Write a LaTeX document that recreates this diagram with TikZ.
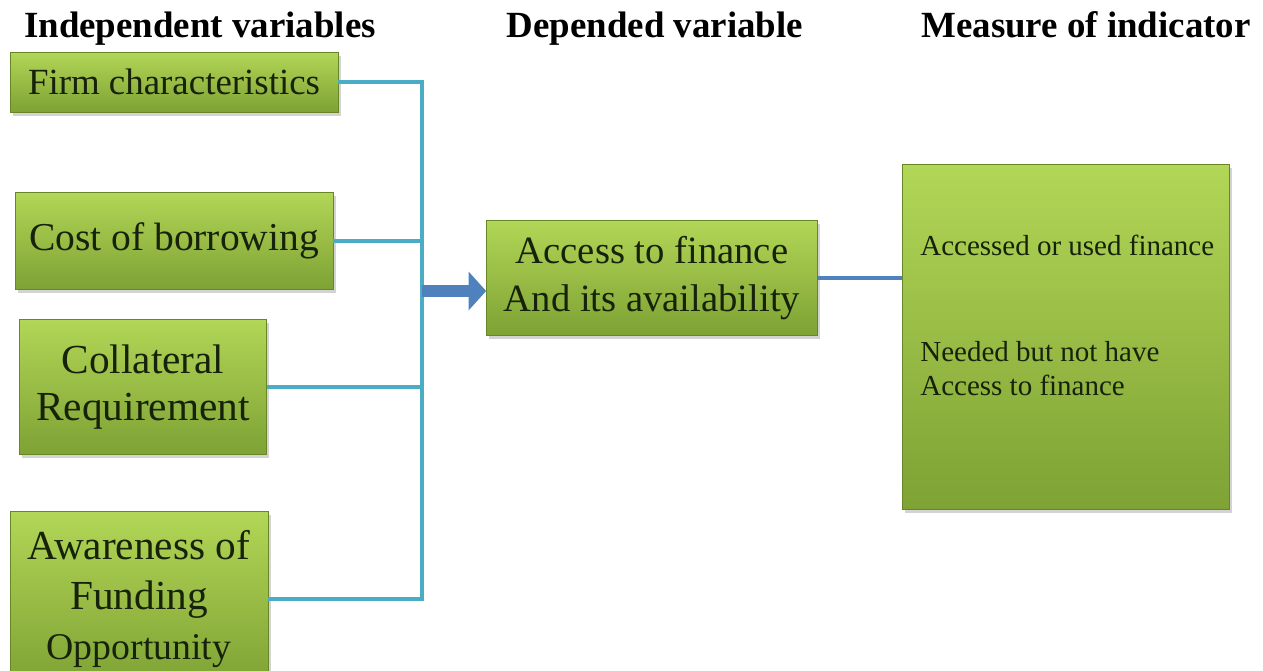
\documentclass[tikz,border=0pt]{standalone}
\usepackage{fontspec}
\setmainfont{Liberation Serif}
\usepackage{tikz}
\usetikzlibrary{arrows.meta,shadows}
\definecolor{cfGreenT} {RGB}{178,214, 86}
\definecolor{cfGreenB} {RGB}{126,162, 52}
\definecolor{cfGreenD} {RGB}{104,134, 40}
\definecolor{cfAqua}   {RGB}{ 75,172,198}
\definecolor{cfSteel}  {RGB}{ 79,129,189}
\definecolor{cfSteelD} {RGB}{ 56, 98,150}
\definecolor{cfText}   {RGB}{ 22, 34, 10}

\begin{document}
\begin{tikzpicture}[
  x=0.02cm,y=-0.02cm,
  head/.style={font=\bfseries\fontsize{21}{25}\selectfont,text=black,anchor=base},
  factor/.style={draw=cfGreenD,top color=cfGreenT,bottom color=cfGreenB,
                 thin,align=center,text=cfText,inner sep=0pt,
                 drop shadow={shadow xshift=1.5pt,shadow yshift=-2pt,opacity=0.35}},
  link/.style={draw=cfAqua,line width=2.6pt},
  flow/.style={draw=cfSteel,line width=7.2pt,
               -{Triangle[length=10pt,width=21.5pt]}},
  wire/.style={draw=cfSteel,line width=2.2pt}
]
\useasboundingbox (0,0) rectangle (1263,670);

% column titles
\node[head] (hind) at (200,37)  {Independent variables};
\node[head] (hdep) at (655,37)  {Depended variable};
\node[head] (hmea) at (1086,37) {Measure of indicator};

% independent variables
\node[factor,minimum width=6.56cm,minimum height=1.2cm,
      font=\fontsize{21}{25}\selectfont] (firm) at (174,82) {Firm characteristics};
\node[factor,minimum width=6.36cm,minimum height=1.94cm,
      font=\fontsize{22.5}{27}\selectfont] (cost) at (174,241) {Cost of borrowing};
\node[factor,minimum width=4.94cm,minimum height=2.7cm,
      font=\fontsize{23.5}{27.2}\selectfont] (coll) at (143,387) {Collateral\\Requirement};
\node[factor,minimum width=5.16cm,minimum height=3.5cm,
      font=\fontsize{23.5}{28.4}\selectfont] (aware) at (139,599)
      {Awareness of\\Funding\\{\fontsize{21.5}{28.4}\selectfont Opportunity}};

% dependent variable
\node[factor,minimum width=6.62cm,minimum height=2.3cm,
      font=\fontsize{22}{27.2}\selectfont] (access) at (652,278)
      {Access to finance\\And its availability};

% measure of indicator
\node[factor,minimum width=6.54cm,minimum height=6.9cm] (meas) at (1066,337) {};
\node[anchor=west,text=cfText,font=\fontsize{16.5}{19.3}\selectfont,inner sep=0pt]
     (used) at (920,245) {Accessed or used finance};
\node[anchor=west,align=left,text=cfText,font=\fontsize{16.5}{19.3}\selectfont,inner sep=0pt]
     (need) at (920,369) {Needed but not have\\Access to finance};

% connectors
\coordinate (bus) at (422,0);
\coordinate (tail) at (422,291);
\draw[link] (firm.east) -- (firm.east -| bus) -- (aware.east -| bus) -- (aware.east);
\draw[link] (cost.east) -- (cost.east -| bus);
\draw[link] (coll.east) -- (coll.east -| bus);
\draw[flow] (tail) -- (tail -| access.west);
\draw[wire] (access.east) -- (access.east -| meas.west);
\end{tikzpicture}
\end{document}
